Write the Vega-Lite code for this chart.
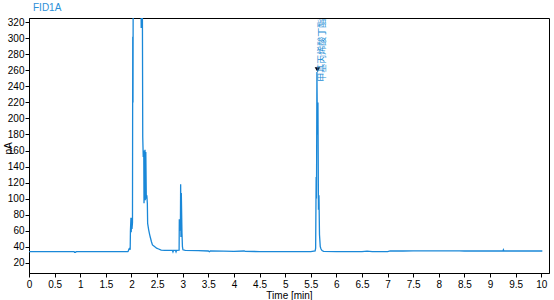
{
  "$schema": "https://vega.github.io/schema/vega-lite/v6.json",
  "width": 520,
  "height": 255,
  "autosize": "none",
  "padding": {"left": 29, "top": 18, "right": 5, "bottom": 27},
  "title": {"text": "FID1A", "anchor": "start", "frame": "group", "color": "#2b8fd8", "fontSize": 10, "font": "Liberation Sans", "fontWeight": "normal", "offset": 4, "dx": 4},
  "config": {
    "view": {"stroke": "black", "strokeWidth": 1},
    "axis": {"grid": false, "domainColor": "black", "tickColor": "black", "labelColor": "black", "titleColor": "black", "labelFont": "Liberation Sans", "titleFont": "Liberation Sans", "labelFontSize": 10, "titleFontSize": 10, "titleFontWeight": "normal", "tickSize": 4}
  },
  "datasets": {
    "signal": [
      {"t": 0.0, "v": 33.8}, {"t": 0.5, "v": 33.8}, {"t": 0.88, "v": 33.8}, {"t": 0.89, "v": 32.8}, {"t": 0.91, "v": 32.8}, {"t": 0.92, "v": 33.8},
      {"t": 1.5, "v": 33.8}, {"t": 1.93, "v": 33.8}, {"t": 1.94, "v": 34.5}, {"t": 1.95, "v": 37}, {"t": 1.965, "v": 38}, {"t": 1.975, "v": 36},
      {"t": 1.98, "v": 60}, {"t": 1.99, "v": 76}, {"t": 1.995, "v": 58}, {"t": 2.005, "v": 76}, {"t": 2.01, "v": 62}, {"t": 2.02, "v": 70},
      {"t": 2.025, "v": 302}, {"t": 2.03, "v": 220}, {"t": 2.035, "v": 420}, {"t": 2.18, "v": 420}, {"t": 2.19, "v": 313}, {"t": 2.195, "v": 420},
      {"t": 2.21, "v": 420}, {"t": 2.22, "v": 177}, {"t": 2.23, "v": 152}, {"t": 2.24, "v": 160}, {"t": 2.245, "v": 94}, {"t": 2.255, "v": 121},
      {"t": 2.265, "v": 161}, {"t": 2.27, "v": 98}, {"t": 2.28, "v": 158}, {"t": 2.29, "v": 100}, {"t": 2.3, "v": 104}, {"t": 2.31, "v": 94},
      {"t": 2.316, "v": 69}, {"t": 2.336, "v": 61}, {"t": 2.355, "v": 55}, {"t": 2.37, "v": 51}, {"t": 2.39, "v": 46}, {"t": 2.41, "v": 42},
      {"t": 2.45, "v": 40}, {"t": 2.49, "v": 38}, {"t": 2.53, "v": 37}, {"t": 2.58, "v": 35.5}, {"t": 2.65, "v": 35.2}, {"t": 2.8, "v": 35.2},
      {"t": 2.81, "v": 33.5}, {"t": 2.82, "v": 35.2}, {"t": 2.86, "v": 35.2}, {"t": 2.87, "v": 33.5}, {"t": 2.88, "v": 35.2}, {"t": 2.93, "v": 35.5},
      {"t": 2.934, "v": 74}, {"t": 2.955, "v": 60}, {"t": 2.96, "v": 118}, {"t": 2.966, "v": 52}, {"t": 2.973, "v": 107}, {"t": 2.986, "v": 57},
      {"t": 2.995, "v": 40}, {"t": 3.005, "v": 36}, {"t": 3.05, "v": 35.3}, {"t": 3.3, "v": 35.0}, {"t": 3.5, "v": 34.5}, {"t": 3.52, "v": 33.5},
      {"t": 3.54, "v": 34.5}, {"t": 3.8, "v": 34.2}, {"t": 4.0, "v": 34.0}, {"t": 4.2, "v": 34.5}, {"t": 4.22, "v": 34.0}, {"t": 4.5, "v": 33.8},
      {"t": 5.0, "v": 33.8}, {"t": 5.5, "v": 33.8}, {"t": 5.585, "v": 34.5}, {"t": 5.595, "v": 38}, {"t": 5.605, "v": 127}, {"t": 5.612, "v": 100},
      {"t": 5.62, "v": 258}, {"t": 5.63, "v": 180}, {"t": 5.64, "v": 220}, {"t": 5.65, "v": 86}, {"t": 5.66, "v": 104}, {"t": 5.67, "v": 55},
      {"t": 5.685, "v": 40}, {"t": 5.7, "v": 37}, {"t": 5.72, "v": 35}, {"t": 5.75, "v": 34}, {"t": 6.0, "v": 33.8}, {"t": 6.5, "v": 33.8},
      {"t": 6.6, "v": 34.3}, {"t": 6.7, "v": 33.8}, {"t": 7.0, "v": 33.8}, {"t": 7.05, "v": 34.5}, {"t": 7.3, "v": 34.5}, {"t": 7.5, "v": 34.6},
      {"t": 8.0, "v": 34.6}, {"t": 8.4, "v": 34.6}, {"t": 8.5, "v": 34.5}, {"t": 9.25, "v": 34.5}, {"t": 9.26, "v": 36}, {"t": 9.27, "v": 34.5},
      {"t": 10.02, "v": 34.5}
    ],
    "peak": [{"t": 5.63, "v": 261, "tv": 246, "tt": 5.72, "label": "甲基丙烯酸丁酯"}]
  },
  "layer": [
    {
      "data": {"name": "signal"},
      "mark": {"type": "line", "color": "#1a88d8", "strokeWidth": 1.3, "clip": true},
      "encoding": {
        "x": {"field": "t", "type": "quantitative", "scale": {"domain": [0, 10.15], "nice": false, "zero": false},
              "axis": {"title": "Time [min]", "values": [0,0.5,1,1.5,2,2.5,3,3.5,4,4.5,5,5.5,6,6.5,7,7.5,8,8.5,9,9.5,10], "tickCount": 50, "format": ".1~f", "labelPadding": 2, "titlePadding": 1, "labelOverlap": false, "labelFlush": false, "labelBound": false}},
        "y": {"field": "v", "type": "quantitative", "scale": {"domain": [7, 325.5], "nice": false, "zero": false},
              "axis": {"title": "pA", "values": [20,40,60,80,100,120,140,160,180,200,220,240,260,280,300,320], "tickCount": 50, "labelPadding": 1, "titleX": -16, "titleY": 130, "labelOverlap": false, "labelFlush": false, "labelBound": false}}
      }
    },
    {
      "data": {"name": "peak"},
      "mark": {"type": "point", "shape": "triangle-down", "filled": true, "color": "black", "size": 30, "opacity": 1},
      "encoding": {
        "x": {"field": "t", "type": "quantitative"},
        "y": {"field": "v", "type": "quantitative"}
      }
    },
    {
      "data": {"name": "peak"},
      "mark": {"type": "text", "angle": 270, "align": "left", "baseline": "middle", "font": "Noto Sans CJK SC", "fontSize": 9, "color": "#2a8fd6"},
      "encoding": {
        "x": {"field": "tt", "type": "quantitative"},
        "y": {"field": "tv", "type": "quantitative"},
        "text": {"field": "label"}
      }
    }
  ]
}
